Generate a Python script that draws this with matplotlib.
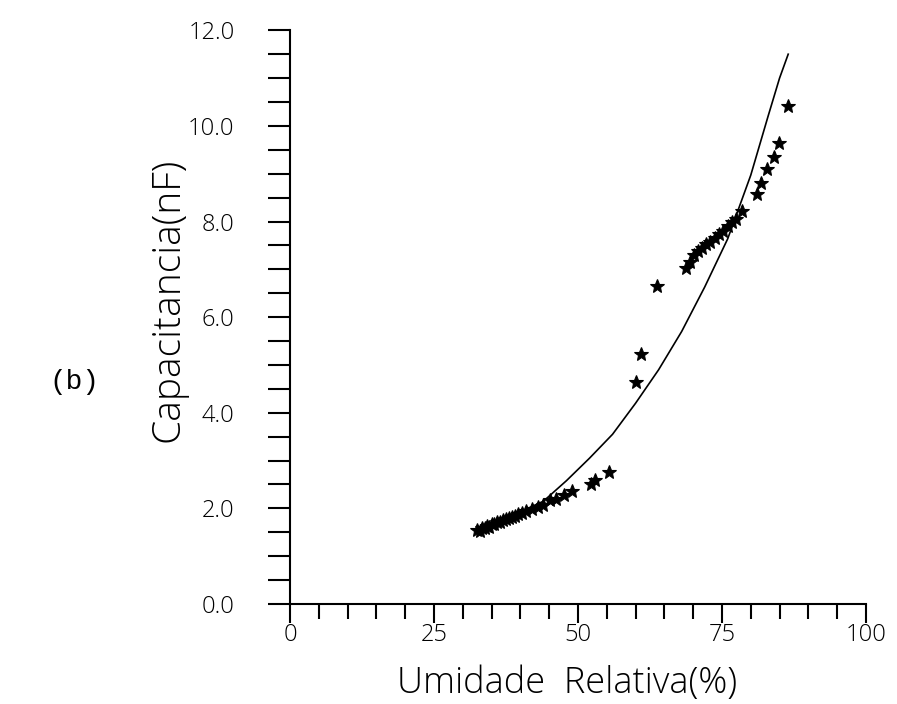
import matplotlib
matplotlib.use("Agg")
import matplotlib.pyplot as plt
from matplotlib.ticker import MultipleLocator, FormatStrFormatter

# measured points (Umidade Relativa %, Capacitancia nF)
rh_pts = [32.5, 33.0, 33.3, 33.8, 34.2, 34.6, 35.0, 35.5, 36.0, 36.5, 37.0, 37.5,
          38.0, 38.5, 39.0, 39.6, 40.2, 41.0, 42.0, 43.0, 44.0, 45.2, 46.2, 47.5,
          49.0, 52.2, 53.0, 55.3,
          60.0, 60.9, 63.7,
          68.7, 69.5, 70.1, 70.9, 71.6, 72.3, 73.0, 73.8, 74.5, 75.2, 76.0, 76.8,
          77.5, 78.4,
          81.0, 81.7, 82.8, 84.0, 84.9, 86.4]
cap_pts = [1.55, 1.52, 1.60, 1.58, 1.64, 1.62, 1.67, 1.68, 1.72, 1.71, 1.76, 1.78,
           1.80, 1.83, 1.84, 1.88, 1.90, 1.94, 1.99, 2.03, 2.08, 2.18, 2.20, 2.28,
           2.36, 2.52, 2.60, 2.76,
           4.64, 5.23, 6.65,
           7.03, 7.15, 7.30, 7.38, 7.45, 7.52, 7.58, 7.66, 7.74, 7.80, 7.90, 7.98,
           8.06, 8.22,
           8.58, 8.81, 9.10, 9.35, 9.64, 10.42]

# fitted curve
rh_fit = [33.0, 36.0, 40.0, 44.0, 48.0, 52.0, 56.0, 60.0, 64.0, 68.0, 72.0,
          76.0, 80.0, 83.0, 85.0, 86.5]
cap_fit = [1.55, 1.72, 1.93, 2.15, 2.58, 3.05, 3.55, 4.2, 4.9, 5.7, 6.63,
           7.64, 8.97, 10.2, 11.0, 11.5]

xticks = [0, 25, 50, 75, 100]
yticks = [0.0, 2.0, 4.0, 6.0, 8.0, 10.0, 12.0]

plt.rcParams['font.family'] = ['Open Sans', 'DejaVu Sans']

fig = plt.figure(figsize=(8.97, 7.04), dpi=100)
ax = fig.add_axes([0.3233, 0.142, 0.6421, 0.815])

ax.plot(rh_fit, cap_fit, color='black', lw=1.2)
ax.plot(rh_pts, cap_pts, linestyle='none', marker='*', markersize=10,
        color='black', markeredgewidth=0.8)

ax.set_xlim(0, 100)
ax.set_ylim(0, 12)
for s in ['top', 'right']:
    ax.spines[s].set_visible(False)
for s in ['left', 'bottom']:
    ax.spines[s].set_linewidth(1.5)

ax.set_xticks(xticks)
ax.xaxis.set_minor_locator(MultipleLocator(5))
ax.set_yticks(yticks)
ax.yaxis.set_minor_locator(MultipleLocator(0.5))
ax.yaxis.set_major_formatter(FormatStrFormatter('%.1f'))

ax.tick_params(axis='x', which='major', direction='out', length=14, width=1.5,
               labelsize=17, pad=0)
ax.tick_params(axis='x', which='minor', direction='out', length=11, width=1.5)
ax.tick_params(axis='y', which='both', direction='out', length=16, width=1.5,
               labelsize=17, pad=24)

for lab in ax.get_xticklabels() + ax.get_yticklabels():
    lab.set_fontweight('light')

ax.set_xlabel('Umidade  Relativa(%)', fontsize=26, fontweight='light')
ax.set_ylabel('Capacitancia(nF)', fontsize=28, fontweight='light')
ax.xaxis.set_label_coords(0.481, -0.138)
ax.xaxis.label.set_verticalalignment('center')
ax.yaxis.set_label_coords(-0.212, 0.53)
ax.yaxis.label.set_verticalalignment('center')

fig.text(0.083, 1 - 382 / 704, '(b)', fontsize=20, family='Liberation Mono',
         ha='center', va='center')

fig.savefig('out.png', dpi=100, facecolor='white')
